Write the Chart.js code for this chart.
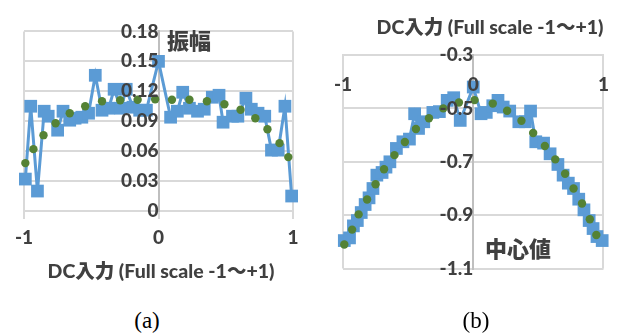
<!DOCTYPE html>
<html>
<head>
<meta charset="utf-8">
<script src="https://cdn.jsdelivr.net/npm/chart.js@4/dist/chart.umd.min.js"></script>
<style>
  html, body { margin: 0; padding: 0; background: #fff; }
  #wrap { position: relative; width: 627px; height: 333px; overflow: hidden; }
  canvas { position: absolute; top: 0; }
  .lbl {
    position: absolute; white-space: nowrap; color: #404040; font-weight: 900;
    font-family: Lato, "Noto Sans CJK JP", sans-serif; transform: translate(-50%, -50%);
    line-height: 1;
  }
  .cap {
    position: absolute; white-space: nowrap; color: #000;
    font-family: "Liberation Serif", "DejaVu Serif", serif; font-size: 23px;
    transform: translate(-50%, -50%); line-height: 1;
  }
</style>
</head>
<body>
<div id="wrap">
  <canvas id="amp" width="310" height="300" style="left:0"></canvas>
  <canvas id="ctr" width="317" height="300" style="left:310px"></canvas>

  <div class="lbl" style="left:189px; top:41px; font-size:22px;">振幅</div>
  <div class="lbl" style="left:161px; top:271px; font-size:19.5px;">DC入力 (Full scale -1〜+1)</div>
  <div class="cap" style="left:147px; top:320px;">(a)</div>

  <div class="lbl" style="left:490px; top:27px; font-size:19.5px;">DC入力 (Full scale -1〜+1)</div>
  <div class="lbl" style="left:518px; top:249px; font-size:22px;">中心値</div>
  <div class="cap" style="left:476px; top:320px;">(b)</div>
</div>

<script>
// Shared horizontal axis: DC input, full scale -1 .. +1
const X_TICKS = [-1, 0, 1];
const X_TICK_LABELS = ['-1', '0', '1'];

// (a) amplitude: measured points and fitted curve
const AMP_X = [-0.99, -0.95, -0.90, -0.85, -0.82, -0.75, -0.71, -0.66, -0.62, -0.57, -0.52, -0.47,
               -0.42, -0.37, -0.33, -0.28, -0.24, -0.19, -0.14, -0.09, 0.00, 0.09, 0.14, 0.18,
               0.23, 0.29, 0.34, 0.40, 0.45, 0.48, 0.55, 0.59, 0.65, 0.69, 0.74, 0.79, 0.84,
               0.89, 0.94, 0.99];
const AMP_MEAS = [0.032, 0.105, 0.020, 0.100, 0.095, 0.081, 0.100, 0.091, 0.093, 0.094, 0.098, 0.136,
                  0.101, 0.103, 0.122, 0.103, 0.122, 0.104, 0.101, 0.101, 0.150, 0.094, 0.100, 0.119,
                  0.103, 0.100, 0.102, 0.114, 0.116, 0.089, 0.095, 0.095, 0.113, 0.102, 0.098, 0.095,
                  0.061, 0.061, 0.105, 0.015];
const AMP_FIT_X = [-0.99, -0.93, -0.855, -0.765, -0.66, -0.545, -0.42, -0.285, -0.155, -0.025,
                   0.10, 0.23, 0.36, 0.49, 0.61, 0.72, 0.81, 0.90, 0.965];
const AMP_FIT = [0.048, 0.062, 0.076, 0.088, 0.098, 0.105, 0.110, 0.111, 0.1115, 0.112,
                 0.1115, 0.1115, 0.110, 0.107, 0.1015, 0.093, 0.082, 0.068, 0.054];
const AMP_TICKS = [0, 0.03, 0.06, 0.09, 0.12, 0.15, 0.18];
const AMP_TICK_LABELS = ['0', '0.03', '0.06', '0.09', '0.12', '0.15', '0.18'];

// (b) centre value: measured points and fitted curve
const CTR_X = [-0.99, -0.95, -0.92, -0.89, -0.86, -0.83, -0.80, -0.77, -0.74, -0.70, -0.67, -0.64,
               -0.59, -0.54, -0.49, -0.45, -0.42, -0.38, -0.31, -0.26, -0.20, -0.15, -0.10, 0.00,
               0.06, 0.10, 0.15, 0.19, 0.23, 0.28, 0.35, 0.40, 0.44, 0.48, 0.54, 0.59, 0.65,
               0.69, 0.73, 0.77, 0.81, 0.85, 0.89, 0.92, 0.95, 0.99];
const CTR_MEAS = [-0.995, -0.985, -0.94, -0.92, -0.89, -0.86, -0.835, -0.80, -0.75, -0.74, -0.72, -0.70,
                  -0.65, -0.625, -0.615, -0.52, -0.575, -0.55, -0.515, -0.512, -0.47, -0.46, -0.545, -0.42,
                  -0.52, -0.515, -0.49, -0.47, -0.495, -0.51, -0.55, -0.55, -0.51, -0.625, -0.63, -0.67,
                  -0.71, -0.75, -0.78, -0.80, -0.84, -0.88, -0.92, -0.95, -0.98, -0.995];
const CTR_FIT_X = [-0.99, -0.93, -0.88, -0.815, -0.75, -0.685, -0.605, -0.525, -0.44, -0.34, -0.23, -0.11,
                   0.01, 0.15, 0.26, 0.37, 0.46, 0.55, 0.63, 0.705, 0.77, 0.835, 0.895, 0.945];
const CTR_FIT = [-1.01, -0.954, -0.897, -0.841, -0.784, -0.728, -0.675, -0.626, -0.577, -0.537, -0.50, -0.478,
                 -0.469, -0.482, -0.509, -0.546, -0.592, -0.641, -0.691, -0.745, -0.80, -0.856, -0.915, -0.974];
const CTR_TICKS = [-1.1, -0.9, -0.7, -0.5, -0.3];
const CTR_TICK_LABELS = ['-1.1', '-0.9', '-0.7', '-0.5', '-0.3'];

const BLUE = '#5b9bd5';
const GREEN = '#548235';
const GRID = '#d9d9d9';
const AXIS = '#bfbfbf';
const TICK_FONT = { family: 'Lato, "Noto Sans CJK JP", sans-serif', size: 19, weight: '900' };

const pts = (xs, ys) => xs.map((x, i) => ({ x, y: ys[i] }));
const fixedTicks = vals => scale => { scale.ticks = vals.map(v => ({ value: v })); };

function makeChart(id, cfg) {
  return new Chart(document.getElementById(id), {
    type: 'scatter',
    data: {
      datasets: [
        { data: pts(cfg.fitX, cfg.fit), order: 0, showLine: false, clip: false,
          pointStyle: 'circle', pointRadius: 4.2, pointBackgroundColor: GREEN,
          pointBorderWidth: 0, pointHoverRadius: 4.2 },
        { data: pts(cfg.measX, cfg.meas), order: 1, showLine: true, clip: false,
          borderColor: BLUE, borderWidth: 3, tension: 0,
          pointStyle: 'rect', pointRadius: 9, pointBackgroundColor: BLUE,
          pointBorderWidth: 0, pointHoverRadius: 9 }
      ]
    },
    options: {
      responsive: false,
      animation: false,
      devicePixelRatio: 1,
      layout: { padding: cfg.padding },
      plugins: { legend: { display: false }, tooltip: { enabled: false } },
      scales: {
        x: {
          type: 'linear', min: -1, max: 1,
          position: { y: cfg.xAt },
          afterBuildTicks: fixedTicks(X_TICKS),
          grid: { color: GRID, lineWidth: 2, drawTicks: cfg.xTickMarks, tickLength: 7, tickColor: GRID },
          border: { display: true, color: GRID, width: 2 },
          ticks: { z: 1, padding: cfg.xLabelPad, color: '#404040', font: TICK_FONT,
                   maxRotation: 0, autoSkip: false,
                   callback: (v, i) => X_TICK_LABELS[i] }
        },
        y: {
          type: 'linear', min: cfg.yMin, max: cfg.yMax,
          position: { x: 0 },
          afterBuildTicks: fixedTicks(cfg.yTicks),
          grid: { color: GRID, lineWidth: 2, drawTicks: false },
          border: { display: true, color: AXIS, width: 2 },
          ticks: { z: 1, padding: 20, color: '#404040', font: TICK_FONT, autoSkip: false,
                   callback: (v, i) => cfg.yLabels[i] }
        }
      }
    }
  });
}

// (a) amplitude vs DC input
makeChart('amp', {
  measX: AMP_X, meas: AMP_MEAS, fitX: AMP_FIT_X, fit: AMP_FIT,
  yMin: 0, yMax: 0.18, yTicks: AMP_TICKS, yLabels: AMP_TICK_LABELS,
  xAt: 0, xTickMarks: true, xLabelPad: 8,
  padding: { left: 24, right: 17, top: 20, bottom: 89 }
});

// (b) centre value vs DC input
makeChart('ctr', {
  measX: CTR_X, meas: CTR_MEAS, fitX: CTR_FIT_X, fit: CTR_FIT,
  yMin: -1.1, yMax: -0.3, yTicks: CTR_TICKS, yLabels: CTR_TICK_LABELS,
  xAt: -0.3, xTickMarks: false, xLabelPad: 18,
  padding: { left: 33, right: 14, top: 55, bottom: 28 }
});
</script>
</body>
</html>
